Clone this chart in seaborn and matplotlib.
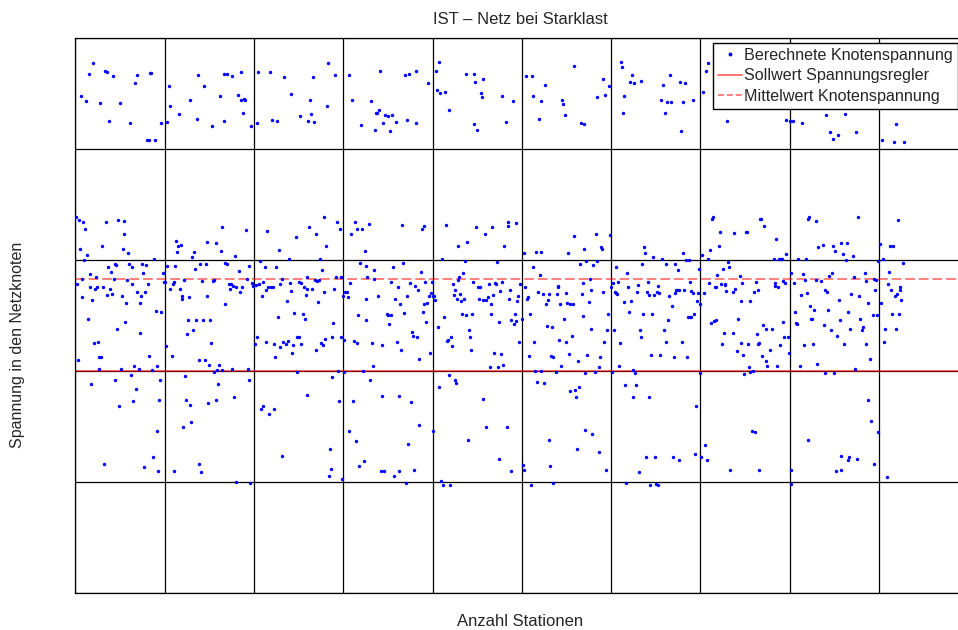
import matplotlib
matplotlib.use("Agg")
import matplotlib.pyplot as plt
from matplotlib.lines import Line2D
import seaborn as sns
import pandas as pd

# ---------------- data (station index, node voltage in grid units) ----------------
punkte_oben = [
    (6, 4.47), (12, 4.43), (15, 4.67), (20, 4.77), (28, 4.41), (33, 4.70), (36, 4.69), (38, 4.25),
    (42, 4.65), (50, 4.41), (61, 4.23), (67, 4.59), (69, 4.66), (80, 4.08), (82, 4.08), (84, 4.68),
    (85, 4.68), (89, 4.08), (96, 4.23), (103, 4.24), (105, 4.56), (106, 4.38), (116, 4.31), (129, 4.44),
    (136, 4.27), (137, 4.66), (144, 4.56), (153, 4.20), (162, 4.47), (166, 4.25), (167, 4.67), (170, 4.67),
    (175, 4.65), (182, 4.48), (185, 4.44), (186, 4.69), (188, 4.32), (189, 4.45), (190, 4.44), (197, 4.20),
    (204, 4.23), (205, 4.69), (218, 4.69), (220, 4.26), (226, 4.25), (234, 4.64), (241, 4.49), (252, 4.29),
    (261, 4.25), (263, 4.44), (264, 4.31), (266, 4.64), (267, 4.24), (282, 4.38), (283, 4.77), (291, 4.66),
    (307, 4.66), (310, 4.44), (320, 4.21), (331, 4.43), (336, 4.17), (337, 4.32), (338, 4.32), (340, 4.35),
    (341, 4.70), (345, 4.23), (347, 4.30), (350, 4.29), (352, 4.16), (355, 4.30), (359, 4.24), (369, 4.66),
    (371, 4.26), (374, 4.67), (381, 4.70), (382, 4.23), (395, 4.59), (404, 4.70), (405, 4.53), (407, 4.78),
    (408, 4.50), (414, 4.51), (418, 4.35), (437, 4.67), (446, 4.67), (447, 4.22), (448, 4.60), (450, 4.17),
    (454, 4.50), (455, 4.46), (456, 4.63), (478, 4.47), (482, 4.24), (490, 4.43), (505, 4.65), (511, 4.65),
    (512, 4.47), (519, 4.27), (522, 4.43), (526, 4.57), (545, 4.44), (546, 4.40), (548, 4.30), (558, 4.74),
    (566, 4.23), (570, 4.22), (584, 4.46), (591, 4.63), (593, 4.48), (598, 4.56), (611, 4.78), (612, 4.73),
    (615, 4.47), (613, 4.32), (621, 4.60), (623, 4.66), (626, 4.59), (633, 4.61), (656, 4.44), (658, 4.57),
    (660, 4.32), (663, 4.42), (666, 4.66), (667, 4.42), (677, 4.60), (681, 4.42), (683, 4.59), (692, 4.44),
    (678, 4.16), (703, 4.51), (706, 4.70), (709, 4.77), (730, 4.25), (757, 4.39), (781, 4.39), (796, 4.26),
    (800, 4.25), (804, 4.25), (814, 4.23), (841, 4.30), (845, 4.15), (849, 4.09), (854, 4.12), (862, 4.31),
    (874, 4.15), (903, 4.08), (919, 4.22), (917, 4.06), (928, 4.06),
]

punkte_mitte = [
    (1, 3.38), (4, 3.36), (9, 3.34), (11, 3.28), (5, 3.10), (13, 3.04), (10, 3.00), (34, 3.34), (48, 3.36),
    (54, 3.35), (55, 3.23), (30, 3.12), (53, 3.10), (59, 3.06), (44, 2.96), (46, 2.95), (40, 2.89), (37, 2.93),
    (60, 2.96), (64, 2.93), (75, 2.96), (79, 2.95), (76, 2.88), (88, 3.01), (17, 2.87), (8, 2.83), (23, 2.84),
    (43, 2.83), (58, 2.82), (2, 2.78), (16, 2.75), (22, 2.74), (24, 2.75), (31, 2.75), (39, 2.74), (63, 2.78),
    (81, 2.78), (69, 2.71), (78, 2.71), (7, 2.66), (19, 2.64), (35, 2.68), (41, 2.69), (52, 2.67), (74, 2.67),
    (57, 2.61), (73, 2.61), (90, 2.54), (96, 2.53), (14, 2.47), (56, 2.44), (47, 2.38), (72, 2.34), (21, 2.25),
    (25, 2.26), (26, 2.12), (29, 2.12), (3, 2.10), (83, 2.13), (27, 2.02), (51, 2.02), (66, 2.04), (71, 2.02),
    (86, 2.01), (92, 2.04), (62, 1.96), (18, 1.88), (45, 1.92), (68, 1.84), (95, 1.92), (98, 2.88), (99, 2.80),
    (101, 2.80), (102, 2.22), (108, 2.13),
    (103, 2.94), (112, 2.94), (114, 3.07), (113, 3.17), (115, 3.12), (118, 3.13), (131, 3.02), (133, 3.07),
    (134, 2.92), (140, 2.96), (146, 2.96), (148, 3.16), (157, 3.15), (163, 3.08), (164, 3.29), (168, 2.97),
    (170, 2.96), (179, 3.03), (183, 2.90), (184, 2.71), (191, 3.27), (195, 2.94), (192, 2.83), (142, 2.81),
    (154, 2.81), (155, 2.82), (111, 2.80), (109, 2.78), (106, 2.74), (117, 2.74), (122, 2.82), (120, 2.67),
    (119, 2.65), (127, 2.66), (147, 2.67), (172, 2.78), (174, 2.78), (173, 2.74), (177, 2.76), (180, 2.75),
    (187, 2.75), (168, 2.60), (126, 2.46), (135, 2.46), (143, 2.46), (151, 2.46), (132, 2.37), (125, 2.33),
    (152, 2.25), (139, 2.10), (145, 2.10), (150, 2.05), (161, 2.05), (155, 1.99), (159, 2.01), (164, 2.01),
    (176, 2.02), (193, 2.02), (123, 1.95), (160, 1.88), (194, 1.92),
    (198, 2.79), (199, 2.76), (202, 2.77), (206, 2.78), (210, 2.80), (213, 2.73), (216, 2.75), (219, 2.75),
    (221, 2.75), (209, 2.67), (207, 2.99), (212, 2.93), (225, 2.93), (229, 2.78), (231, 2.83), (239, 3.01),
    (242, 2.72), (240, 2.79), (250, 2.80), (253, 2.79), (256, 2.75), (260, 2.74), (265, 2.74), (258, 2.68),
    (259, 2.84), (268, 2.82), (271, 2.81), (273, 2.82), (278, 2.71), (272, 2.62), (276, 2.91), (274, 3.01),
    (215, 3.26), (228, 3.09), (247, 3.20), (262, 3.29), (269, 3.23), (279, 3.38), (281, 3.12), (293, 3.34),
    (296, 3.28), (237, 2.63), (245, 2.52), (255, 2.51), (257, 2.47), (227, 2.48), (203, 2.30), (201, 2.24),
    (214, 2.26), (223, 2.24), (229, 2.21), (224, 2.12), (233, 2.26), (236, 2.24), (238, 2.27), (244, 2.23),
    (243, 2.16), (248, 2.30), (250, 2.30), (253, 2.24), (270, 2.19), (275, 2.25), (277, 2.23), (280, 2.29),
    (289, 2.43), (288, 2.30), (290, 2.74), (292, 2.84), (297, 2.84), (298, 2.30), (248, 1.99), (287, 1.94),
    (294, 2.00),
    (300, 2.67), (302, 2.71), (304, 2.71), (305, 2.66), (301, 2.28), (301, 1.99), (308, 2.79), (309, 3.23),
    (313, 3.34), (316, 3.28), (321, 3.28), (329, 3.32), (324, 3.08), (319, 2.97), (325, 2.94), (334, 2.91),
    (327, 2.84), (335, 2.83), (325, 2.65), (339, 2.67), (317, 2.50), (326, 2.46), (312, 2.27), (315, 2.25),
    (332, 2.25), (322, 2.00), (333, 2.04), (330, 1.92), (344, 2.23), (349, 2.51), (350, 2.50), (353, 2.50),
    (351, 2.42), (354, 2.80), (356, 2.93), (358, 2.65), (361, 2.75), (364, 2.60), (360, 2.26), (365, 2.19),
    (366, 3.31), (367, 2.97), (368, 2.52), (372, 2.67), (375, 2.79), (377, 2.35), (378, 2.31), (380, 2.76),
    (383, 2.30), (384, 2.73), (385, 2.11), (387, 2.89), (388, 3.28), (390, 3.30), (389, 2.53), (391, 2.60),
    (392, 2.80), (393, 2.44), (394, 2.61), (396, 2.67), (397, 2.16), (398, 2.70), (399, 2.80),
    (401, 2.67), (403, 2.64), (402, 2.67), (406, 2.39), (411, 3.01), (413, 2.48), (415, 3.31), (416, 2.27),
    (417, 2.28), (419, 1.96), (421, 2.30), (422, 2.22), (423, 2.78), (424, 2.68), (425, 1.92), (426, 1.89),
    (425, 2.73), (427, 2.65), (428, 3.12), (429, 2.82), (430, 2.84), (431, 2.69), (432, 2.63), (434, 2.88),
    (435, 2.65), (436, 2.99), (433, 2.51), (438, 2.50), (439, 3.16), (441, 2.37), (442, 2.30), (443, 2.19),
    (444, 2.51), (445, 2.80), (449, 3.29), (451, 2.75), (453, 2.75), (452, 2.65), (457, 2.64), (460, 2.64),
    (462, 2.66), (459, 3.23), (463, 2.78), (465, 2.60), (466, 2.51), (467, 3.29), (468, 2.68), (469, 2.16),
    (464, 2.03), (470, 2.79), (471, 2.78), (472, 2.98), (473, 2.03), (475, 2.44), (476, 2.72), (477, 2.15),
    (479, 2.05), (478, 2.80), (480, 3.12), (484, 3.30), (485, 3.34), (486, 2.65), (487, 2.73), (488, 2.46),
    (491, 2.42), (492, 2.51), (493, 3.33), (494, 2.45), (495, 2.63), (497, 2.26), (496, 2.67), (498, 2.78),
    (500, 2.47), (407, 1.85),
    (503, 3.06), (504, 2.75), (506, 2.65), (507, 2.66), (508, 2.13), (509, 2.51), (513, 2.93), (514, 2.26),
    (515, 2.00), (516, 3.07), (522, 3.07), (517, 1.90), (518, 2.71), (520, 2.86), (521, 2.00), (524, 2.69),
    (525, 1.89), (528, 2.40), (529, 2.64), (531, 2.69), (527, 2.60), (533, 2.13), (535, 2.12), (534, 2.39),
    (538, 1.99), (539, 2.69), (540, 2.75), (541, 2.76), (542, 2.28), (543, 2.60), (544, 2.04), (547, 2.47),
    (549, 2.70), (550, 2.26), (552, 3.06), (551, 2.61), (554, 2.60), (557, 2.60), (553, 2.15), (556, 2.31),
    (559, 3.21), (563, 2.09), (564, 1.85), (565, 2.96), (567, 2.69), (568, 2.49), (569, 2.79), (570, 3.10),
    (572, 2.99), (573, 2.14), (571, 1.98), (575, 2.62), (576, 2.83), (577, 2.73), (578, 2.38), (580, 2.95),
    (582, 1.99), (583, 3.23), (584, 2.99), (586, 2.03), (588, 2.12), (589, 3.11), (590, 3.10), (591, 2.71),
    (592, 2.26), (595, 2.37), (596, 2.51), (599, 3.22),
    (600, 2.75), (601, 1.99), (602, 2.79), (604, 2.71), (605, 2.70), (603, 2.37), (606, 2.93), (607, 2.69),
    (608, 2.80), (610, 2.25), (609, 2.04),
    (618, 2.88), (614, 2.62), (619, 2.75), (620, 2.53), (622, 2.63), (630, 2.77), (629, 2.71), (635, 2.96),
    (636, 2.51), (637, 3.11), (638, 3.06), (632, 2.37), (634, 2.30), (640, 2.71), (641, 2.80), (642, 2.68),
    (648, 2.68), (645, 2.14), (646, 2.51), (647, 3.02), (651, 2.71), (652, 2.76), (654, 2.70), (655, 2.14),
    (657, 3.01), (659, 2.37), (661, 2.96), (662, 2.26), (664, 2.46), (665, 2.67), (668, 2.58), (670, 2.12),
    (671, 2.70), (672, 2.96), (673, 2.73), (674, 2.73), (676, 2.73), (675, 2.91), (679, 2.26), (680, 3.06),
    (682, 2.73), (684, 3.00), (687, 3.00), (685, 2.12), (686, 2.48), (688, 2.48), (689, 2.48), (688, 2.80),
    (690, 2.72), (692, 2.70), (693, 2.51), (696, 2.63), (697, 2.70), (698, 2.92), (700, 2.60), (699, 1.98),
    (616, 1.87), (627, 1.98), (625, 2.01), (628, 1.87),
    (702, 3.04), (704, 2.70), (708, 3.01), (710, 2.79), (711, 3.09), (713, 3.37), (714, 3.38), (712, 2.43),
    (715, 2.45), (718, 2.46), (716, 2.75), (717, 2.75), (719, 2.86), (721, 3.12), (722, 3.25), (723, 2.78),
    (724, 2.24), (725, 2.92), (726, 2.34), (727, 2.77), (728, 2.78), (729, 2.72), (731, 2.98), (732, 2.93),
    (736, 2.34), (737, 2.71), (739, 2.74), (738, 3.24), (741, 2.18), (742, 2.47), (744, 2.85), (745, 2.25),
    (746, 2.63), (747, 2.79), (748, 2.14), (749, 1.97), (751, 3.25), (752, 3.25), (753, 2.24), (754, 2.03),
    (755, 1.99), (756, 2.63), (759, 2.00), (760, 2.71), (762, 2.80), (763, 2.33), (764, 2.73), (765, 2.24),
    (766, 2.25), (767, 3.37), (768, 3.37), (769, 2.13), (770, 2.41), (771, 3.30), (773, 2.38), (774, 2.09),
    (775, 2.04), (778, 2.19), (780, 2.38), (782, 3.01), (783, 2.76), (784, 2.79), (785, 3.19), (786, 2.04),
    (787, 2.75), (788, 3.01), (790, 3.01), (791, 3.01), (789, 2.23), (792, 2.44), (793, 2.81), (794, 2.30),
    (795, 2.79), (796, 3.05), (798, 2.30), (799, 2.16),
    (801, 2.88), (805, 2.79), (806, 2.53), (807, 2.43), (808, 2.42), (809, 3.01), (811, 2.04), (813, 2.68),
    (815, 2.87), (817, 2.82), (816, 2.23), (818, 3.01), (819, 2.70), (821, 3.37), (822, 3.38), (823, 2.58),
    (824, 2.47), (825, 2.47), (826, 2.24), (827, 2.55), (829, 2.82), (830, 3.35), (831, 2.06), (832, 3.11),
    (835, 2.81), (837, 3.13), (838, 2.41), (839, 2.73), (840, 1.98), (842, 2.71), (843, 2.55), (844, 2.85),
    (846, 2.37), (847, 2.88), (848, 3.12), (850, 1.98), (851, 3.08), (853, 2.31), (855, 2.64), (856, 2.46),
    (858, 3.15), (860, 3.05), (861, 2.24), (864, 3.15), (863, 3.00), (865, 2.53), (868, 2.38), (869, 2.69),
    (871, 3.03), (872, 2.84), (873, 2.02), (877, 3.38), (878, 2.67), (879, 2.47), (881, 2.37), (882, 2.39),
    (884, 2.88), (885, 2.81), (886, 2.24), (888, 2.61), (890, 2.11), (893, 2.50), (894, 2.83), (896, 2.73),
    (897, 2.82), (898, 2.50), (899, 2.99),
    (901, 3.14), (902, 2.61), (904, 3.01), (907, 2.38), (906, 2.26), (910, 2.78), (911, 2.89), (912, 3.12),
    (916, 3.12), (913, 2.73), (915, 2.51), (918, 2.67), (919, 2.38), (920, 2.69), (921, 3.36), (922, 2.51),
    (923, 2.75), (924, 2.73), (925, 2.64), (927, 2.97),
]

punkte_unten = [
    (49, 1.68), (65, 1.73), (94, 1.74), (91, 1.46), (32, 1.16), (87, 1.22), (77, 1.13), (93, 1.10),
    (124, 1.74), (128, 1.69), (149, 1.71), (158, 1.74), (178, 1.76), (130, 1.54), (121, 1.49), (110, 1.10),
    (138, 1.16), (141, 1.09), (180, 1.00), (196, 0.99), (208, 1.66), (210, 1.68), (217, 1.61), (222, 1.66),
    (260, 1.78), (295, 1.73), (232, 1.23), (285, 1.30), (286, 1.12), (284, 1.05), (299, 1.03),
    (311, 1.73), (343, 1.77), (363, 1.77), (376, 1.72), (306, 1.46), (314, 1.37), (385, 1.51), (373, 1.34),
    (323, 1.19), (318, 1.14), (342, 1.10), (346, 1.10), (362, 1.10), (379, 1.11), (357, 1.05), (370, 0.99),
    (457, 1.75), (401, 1.46), (440, 1.38), (460, 1.49), (483, 1.49), (474, 1.21), (488, 1.10), (410, 1.01),
    (412, 0.97), (420, 0.97),
    (554, 1.82), (560, 1.83), (561, 1.76), (501, 1.15), (502, 1.11), (510, 0.97), (530, 1.38), (532, 1.14),
    (535, 0.99), (562, 1.30), (571, 1.47), (579, 1.43), (587, 1.27), (594, 1.11),
    (624, 1.76), (643, 1.76), (695, 1.68), (639, 1.22), (649, 1.22), (669, 1.22), (676, 1.20), (694, 1.25),
    (631, 1.09), (617, 0.99), (644, 0.97), (650, 0.98), (653, 0.97),
    (701, 1.22), (705, 1.33), (707, 1.20), (733, 1.11), (758, 1.46), (761, 1.45), (766, 1.11), (801, 1.11),
    (802, 0.98),
    (820, 1.38), (857, 1.23), (858, 1.11), (852, 1.10), (865, 1.20), (866, 1.22), (875, 1.21), (888, 1.74),
    (891, 1.55), (894, 1.16), (899, 1.45), (909, 1.04),
]

sollwert = 2.0          # Sollwert Spannungsregler
mittelwert = 2.83       # Mittelwert Knotenspannung

titel = "IST \u2013 Netz bei Starklast"
x_label = "Anzahl Stationen"
y_label = "Spannung in den Netzknoten"
legende = ["Berechnete Knotenspannung", "Sollwert Spannungsregler", "Mittelwert Knotenspannung"]

# ---------------- build table ----------------
alle = punkte_oben + punkte_mitte + punkte_unten
df = pd.DataFrame(alle, columns=["Station", "Spannung"])

# ---------------- style ----------------
sns.set_style("white")
plt.rcParams["font.family"] = ["Liberation Sans", "DejaVu Sans"]

W, H = 958, 630
fig = plt.figure(figsize=(W / 100, H / 100), dpi=100)
ax = fig.add_axes([75.3 / W, 37.0 / H, 893.0 / W, 555.5 / H])

sns.scatterplot(data=df, x="Station", y="Spannung", ax=ax, color="#0000ff",
                s=6, linewidth=0, marker="o", legend=False, zorder=3)

ax.axhline(sollwert, color="#ff0000", alpha=0.55, lw=1.4, zorder=2)
ax.axhline(mittelwert, color="#ff0000", alpha=0.5, lw=1.4, ls=(0, (5, 2)), zorder=2)

ax.set_xlim(0, 1000)
ax.set_ylim(0, 5)
ax.set_xticks(range(0, 1001, 100))
ax.set_yticks(range(0, 6))
ax.set_xticklabels([])
ax.set_yticklabels([])
ax.tick_params(length=0)
ax.set_xlabel("")
ax.set_ylabel("")
ax.grid(True, color="black", lw=0.9)
ax.set_axisbelow(True)
for sp in ax.spines.values():
    sp.set_color("black")
    sp.set_linewidth(0.9)

fig.text(520 / W, 1 - 19 / H, titel, ha="center", va="center", fontsize=12)
fig.text(520 / W, 1 - 621 / H, x_label, ha="center", va="center", fontsize=12)
fig.text(18 / W, 1 - 345 / H, y_label, ha="center", va="center", fontsize=11.5, rotation=90)

handles = [
    Line2D([], [], marker="o", markersize=1.8, color="#0000ff", linestyle="none"),
    Line2D([], [], color="#ff0000", alpha=0.55, lw=1.4),
    Line2D([], [], color="#ff0000", alpha=0.5, lw=1.4, ls=(0, (3, 1.6))),
]
leg = ax.legend(handles, legende, loc="upper left",
                bbox_to_anchor=(712.7 / W, 1 - 42.7 / H), bbox_transform=fig.transFigure,
                borderaxespad=0, frameon=True, fancybox=False, framealpha=1,
                edgecolor="black", fontsize=11.6, handlelength=1.5, handletextpad=0.15,
                borderpad=0.3, labelspacing=0.36)
leg.get_frame().set_linewidth(1.0)
leg.set_zorder(10)

fig.savefig("out.png", dpi=100)
